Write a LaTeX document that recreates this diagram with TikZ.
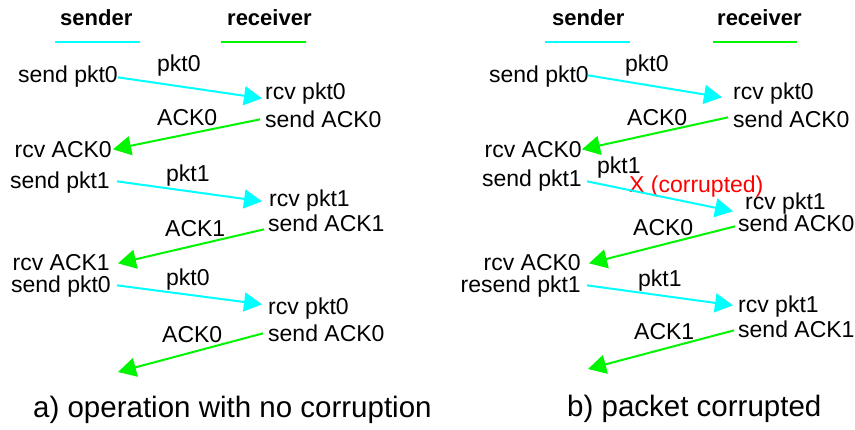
\documentclass[tikz,border=0pt]{standalone}
\usepackage{fontspec}
\setmainfont{Liberation Sans}
\usetikzlibrary{arrows.meta, calc}
\definecolor{pktcyan}{RGB}{0,255,255}
\definecolor{ackgreen}{RGB}{0,245,0}
\definecolor{errred}{RGB}{255,0,0}

\begin{document}
\begin{tikzpicture}[x=1pt, y=-1pt,
    txt/.style={font=\fontsize{23}{26}\selectfont, inner sep=0pt},
    lft/.style={txt, anchor=base east},
    rgt/.style={txt, anchor=base west},
    lbl/.style={txt, anchor=base west},
    head/.style={font=\fontsize{22}{26}\selectfont\bfseries, inner sep=0pt, anchor=base west},
    captxt/.style={font=\fontsize{29.5}{34}\selectfont, inner sep=0pt, anchor=base west},
    pkt/.style={-{Triangle[length=18pt, width=19pt]}, color=pktcyan, line width=2pt},
    ack/.style={pkt, color=ackgreen},
  ]
  \useasboundingbox (0,0) rectangle (855,430);

  % a) operation with no corruption
  \node[head] (hsa) at (60,26) {sender};
  \node[head] (hra) at (227,26) {receiver};
  \draw[pktcyan, line width=2pt] (55,42) -- (140,42);
  \draw[ackgreen, line width=2pt] (221,42) -- (306,42);

  \node[lft] (sa1) at (118,83) {send pkt0};
  \node[rgt] (ra1) at (265,100) {rcv pkt0};
  \node[rgt] (ra2) at (265,128) {send ACK0};
  \node[lft] (sa2) at (112,158) {rcv ACK0};
  \node[lft] (sa3) at (110,189) {send pkt1};
  \node[rgt] (ra3) at (269,207) {rcv pkt1};
  \node[rgt] (ra4) at (268,232) {send ACK1};
  \node[lft] (sa4) at (110,271) {rcv ACK1};
  \node[lft] (sa5) at (111,293) {send pkt0};
  \node[rgt] (ra5) at (268,315) {rcv pkt0};
  \node[rgt] (ra6) at (268,342) {send ACK0};
  \coordinate (ea6) at (118,372);

  \node[lbl] (la1) at (157,72) {pkt0};
  \node[lbl] (la2) at (157,126) {ACK0};
  \node[lbl] (la3) at (166,182) {pkt1};
  \node[lbl] (la4) at (165,237) {ACK1};
  \node[lbl] (la5) at (166,286) {pkt0};
  \node[lbl] (la6) at (162,343) {ACK0};

  \draw[pkt] ([yshift=3pt]sa1.mid east) -- ([shift={(-3pt,-1pt)}]ra1.mid west);
  \draw[ack] ([shift={(-5pt,6pt)}]ra2.mid west) -- ([shift={(1pt,6pt)}]sa2.mid east);
  \draw[pkt] ([shift={(7pt,5pt)}]sa3.mid east) -- ([shift={(-7pt,3pt)}]ra3.mid west);
  \draw[ack] ([shift={(-4pt,0pt)}]ra4.mid west) -- ([shift={(8pt,5pt)}]sa4.mid east);
  \draw[pkt] ([shift={(6pt,5pt)}]sa5.mid east) -- ([shift={(-6pt,8pt)}]ra5.mid west);
  \draw[ack] ([shift={(-5pt,6pt)}]ra6.mid west) -- (ea6);

  \node[captxt] (capa) at (33,418) {a) operation with no corruption};

  % b) packet corrupted
  \node[head] (hsb) at (552,26) {sender};
  \node[head] (hrb) at (717,26) {receiver};
  \draw[pktcyan, line width=2pt] (545,42) -- (630,42);
  \draw[ackgreen, line width=2pt] (713,42) -- (797,42);

  \node[lft] (sb1) at (589,83) {send pkt0};
  \node[rgt] (rb1) at (733,100) {rcv pkt0};
  \node[rgt] (rb2) at (733,128) {send ACK0};
  \node[lft] (sb2) at (582,158) {rcv ACK0};
  \node[lft] (sb3) at (582,187) {send pkt1};
  \node[rgt] (rb3) at (745,210) {rcv pkt1};
  \node[rgt] (rb4) at (738,232) {send ACK0};
  \node[lft] (sb4) at (581,271) {rcv ACK0};
  \node[lft] (sb5) at (581,293) {resend pkt1};
  \node[rgt] (rb5) at (738,313) {rcv pkt1};
  \node[rgt] (rb6) at (738,338) {send ACK1};
  \coordinate (eb6) at (588,369);

  \node[lbl] (lb1) at (625,72) {pkt0};
  \node[lbl] (lb2) at (627,126) {ACK0};
  \node[lbl] (lb3) at (597,174) {pkt1};
  \node[lbl, text=errred] (xb3) at (629,193) {X (corrupted)};
  \node[lbl] (lb4) at (633,236) {ACK0};
  \node[lbl] (lb5) at (638,287) {pkt1};
  \node[lbl] (lb6) at (634,340) {ACK1};

  \draw[pkt] ([shift={(-1pt,5pt)}]sb1.mid east) -- ([shift={(-11pt,0pt)}]rb1.mid west);
  \draw[ack] ([shift={(-5pt,8pt)}]rb2.mid west) -- ([shift={(0pt,6pt)}]sb2.mid east);
  \draw[pkt] ([shift={(5pt,3pt)}]sb3.mid east) -- ([shift={(-12pt,-4pt)}]rb3.mid west);
  \draw[ack] ([shift={(-3pt,3pt)}]rb4.mid west) -- ([shift={(8pt,5pt)}]sb4.mid east);
  \draw[pkt] ([shift={(6pt,5pt)}]sb5.mid east) -- ([shift={(-5pt,5pt)}]rb5.mid west);
  \draw[ack] ([shift={(-4pt,5pt)}]rb6.mid west) -- (eb6);

  \node[captxt] (capb) at (567,417) {b) packet corrupted};
\end{tikzpicture}
\end{document}
